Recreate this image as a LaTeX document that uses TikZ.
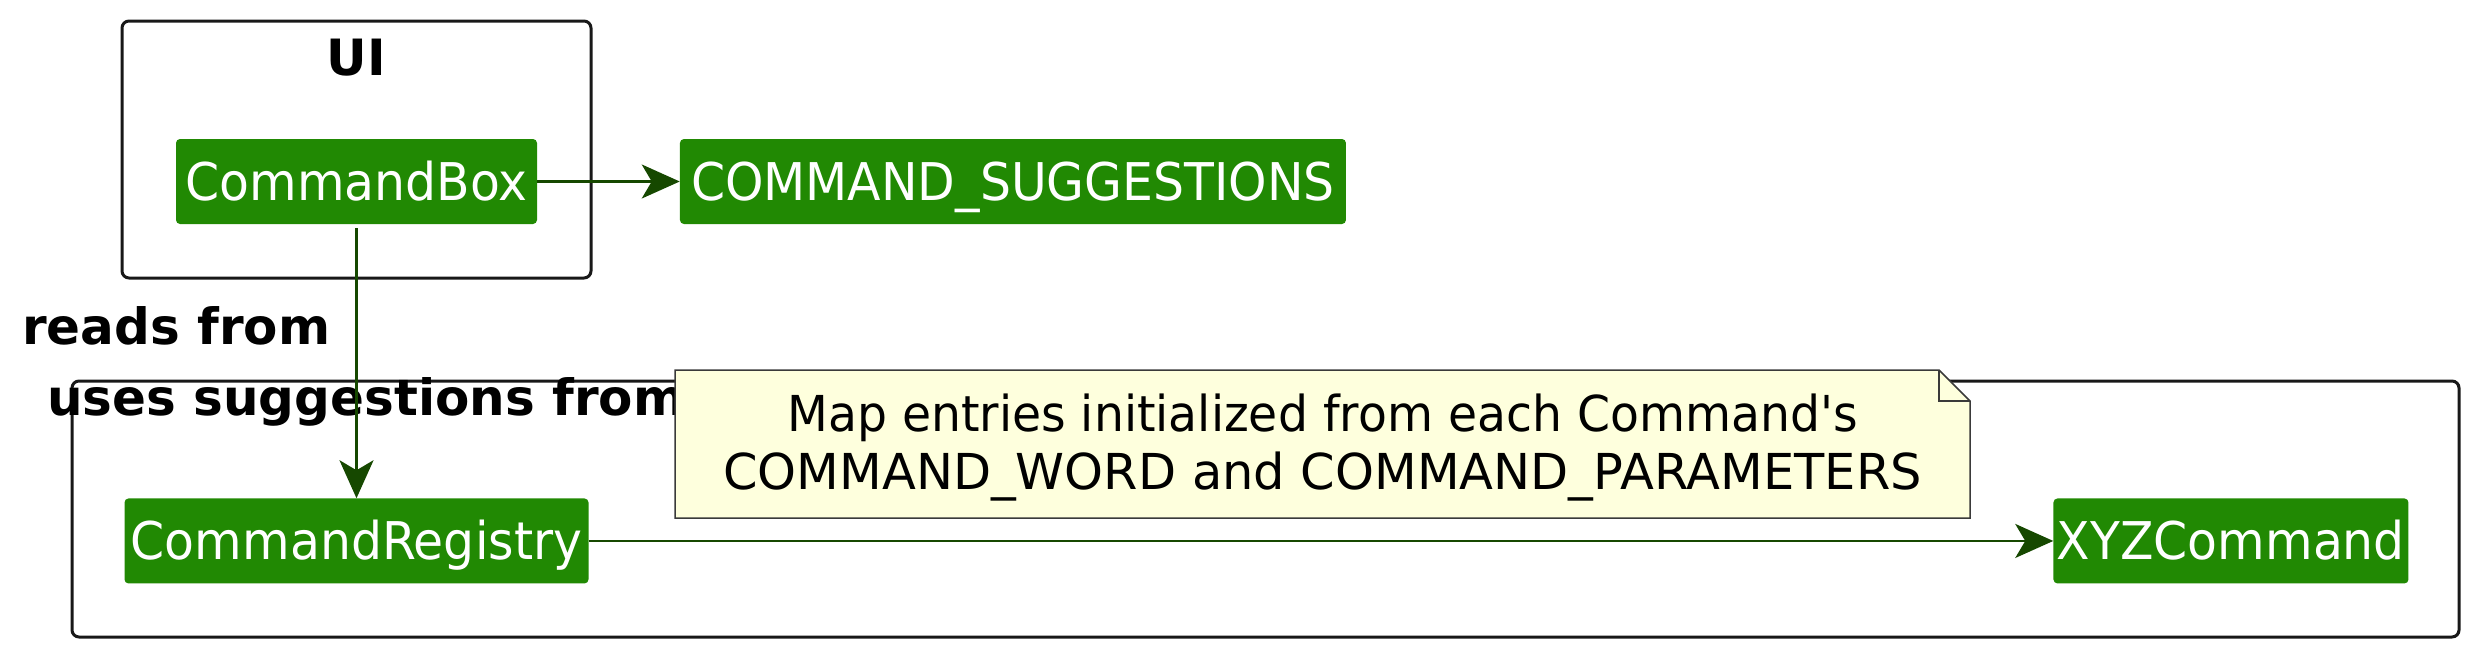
\documentclass[tikz,border=0pt]{standalone}
\usepackage{fontspec}
\newfontfamily\umlfont{DejaVu Sans}[FakeStretch=0.94]
\newfontfamily\notefont{DejaVu Sans}
\newfontfamily\notenarrow{DejaVu Sans}[FakeStretch=0.955]
\usetikzlibrary{arrows.meta}
\definecolor{clsgreen}{RGB}{33,137,3}
\definecolor{linkgreen}{RGB}{22,72,0}
\definecolor{notefill}{RGB}{254,255,221}
\definecolor{noteline}{RGB}{58,58,58}
\definecolor{pkgline}{RGB}{24,24,24}
\tikzset{
  cls/.style={fill=clsgreen,text=white,rounded corners=4pt,inner sep=0pt,minimum height=85pt,
    text height=37pt,text depth=0pt,font=\umlfont\fontsize{52}{62}\selectfont},
  pkg/.style={draw=pkgline,line width=3pt,rounded corners=7pt},
  lbl/.style={font=\notefont\bfseries\fontsize{50}{60}\selectfont,inner sep=0pt},
  link/.style={draw=linkgreen,line width=2.5pt,-{Stealth[length=38pt,width=34pt,inset=10pt]}}
}

\begin{document}
\begin{tikzpicture}[x=1pt,y=-1pt]
      \useasboundingbox (0,0) rectangle (2487,653);
      \draw[pkg] (122,21) rectangle (591,278);
      \draw[pkg] (72,381) rectangle (2459,637);
      \node[lbl,anchor=base] (ui) at (356.5,75) {UI};
      \node[lbl,anchor=base west] (reads) at (22,344) {reads from};
      \node[lbl,anchor=base west] (uses) at (47,415) {uses suggestions from};

      \node[cls,minimum width=361pt] (box) at (356.5,181.5) {CommandBox};
      \node[cls,minimum width=666pt,right of=box,xshift=628pt] (sugg) {COMMAND\_SUGGESTIONS};
      \node[cls,minimum width=464pt,below of=box,yshift=-331pt] (reg) {CommandRegistry};
      \node[cls,minimum width=355pt,right of=reg,xshift=1846pt] (xyz) {XYZCommand};

      \filldraw[fill=notefill,draw=noteline,line width=1.5pt] (675,370) -- (1939,370) -- (1970,401) -- (1970,518) -- (675,518) -- cycle;
      \draw[draw=noteline,line width=1.5pt] (1939,370) -- (1939,401) -- (1970,401);
      \node[font=\notefont\fontsize{49.5}{58}\selectfont,align=center] (note) at (1322.5,448)
        {{\notenarrow Map entries initialized from each Command's}\\COMMAND\_WORD and COMMAND\_PARAMETERS};

      \draw[link] (box) -- (sugg);
      \draw[link,shorten <=4pt] (box) -- (reg);
      \draw[link] (reg) -- (xyz);
    \end{tikzpicture}
\end{document}
